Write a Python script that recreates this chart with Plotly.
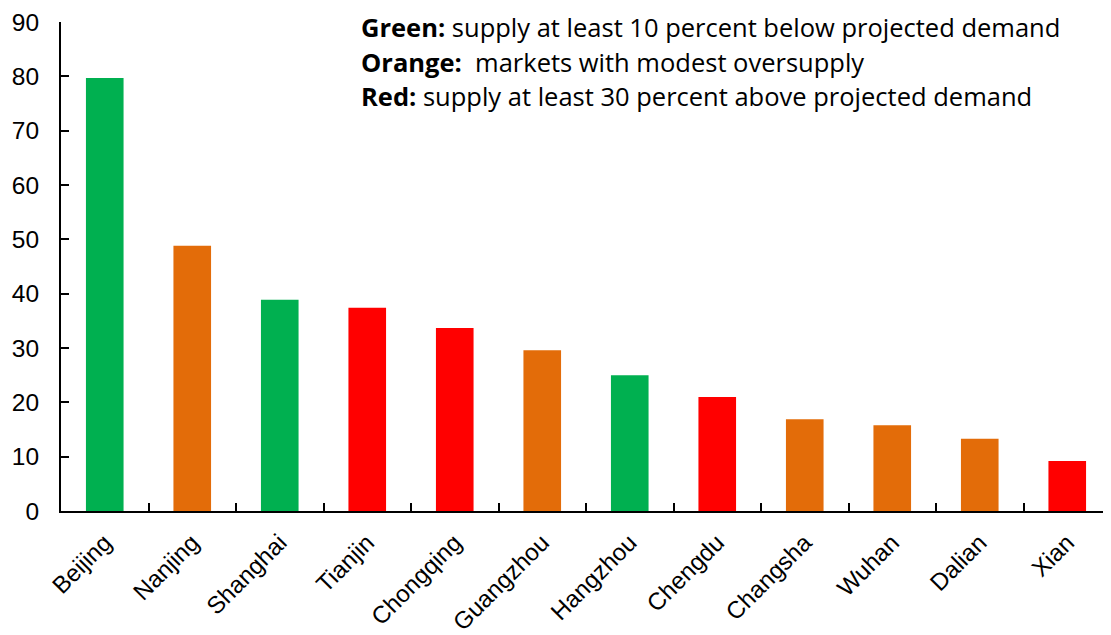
import plotly.graph_objects as go

cities = ["Beijing", "Nanjing", "Shanghai", "Tianjin", "Chongqing", "Guangzhou",
          "Hangzhou", "Chengdu", "Changsha", "Wuhan", "Dalian", "Xian"]
values = [79.7, 48.8, 38.9, 37.4, 33.7, 29.6, 25.0, 21.0, 16.9, 15.8, 13.3, 9.2]
groups = ["green", "orange", "green", "red", "red", "orange",
          "green", "red", "orange", "orange", "orange", "red"]
palette = {"green": "#00B050", "orange": "#E36C09", "red": "#FF0000"}
y_ticks = [0, 10, 20, 30, 40, 50, 60, 70, 80, 90]

legend_lines = [
    ("Green:", " supply at least 10 percent below projected demand"),
    ("Orange:", "&nbsp; markets with modest oversupply"),
    ("Red:", " supply at least 30 percent above projected demand"),
]

fig = go.Figure()
fig.add_trace(go.Bar(
    x=cities, y=values,
    marker=dict(color=[palette[g] for g in groups], line=dict(width=0)),
    hoverinfo="x+y",
))

ypos = [0.989, 0.919, 0.849]
for (b, t), yy in zip(legend_lines, ypos):
    fig.add_annotation(
        xref="paper", yref="paper", x=0.284, y=yy,
        xanchor="left", yanchor="middle", showarrow=False,
        text=f"<b>{b}</b>{t}",
        font=dict(family="Open Sans, Lato, sans-serif", size=25.5, color="black"),
    )

# page body has an 8px margin; size the figure to the visible area
fig.update_layout(
    width=1103, height=627,
    margin=dict(l=53, r=0, t=14, b=124, autoexpand=False),
    plot_bgcolor="white", paper_bgcolor="white",
    bargap=0.57, showlegend=False,
    font=dict(family="Liberation Sans, Arial, sans-serif", size=24, color="black"),
)
fig.update_xaxes(
    type="category", tickangle=-45, showline=True, linecolor="black", linewidth=2,
    ticks="inside", ticklen=8, tickwidth=2, tickcolor="black", tickson="boundaries",
    showgrid=False, tickfont=dict(size=24), automargin=False, ticklabelstandoff=6,
)
fig.update_yaxes(
    range=[0, 90], tickvals=y_ticks, showline=True, linecolor="black", linewidth=2,
    ticks="inside", ticklen=8, tickwidth=2, tickcolor="black",
    showgrid=False, zeroline=False, tickfont=dict(size=24.5), ticklabelstandoff=15,
    automargin=False,
)

fig.write_html("out.html")
